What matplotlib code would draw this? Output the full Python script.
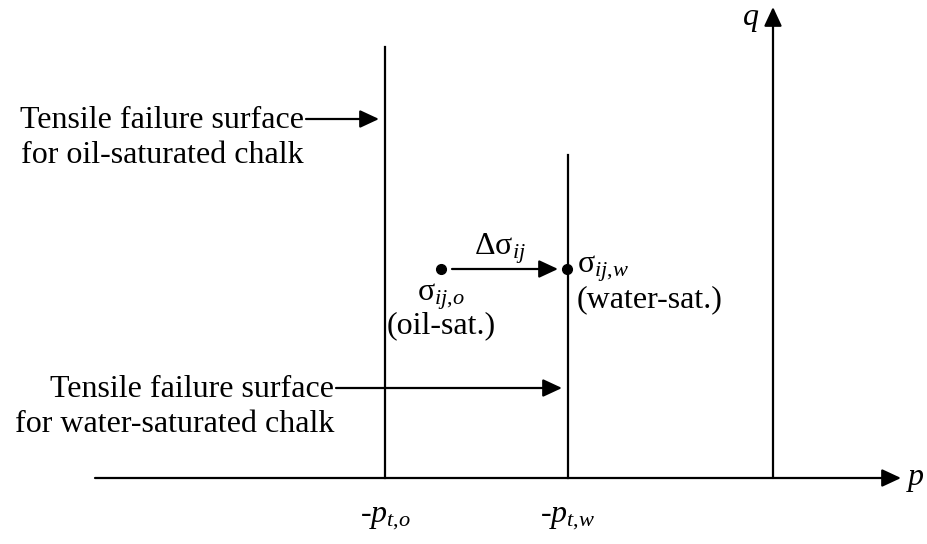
import matplotlib.pyplot as plt

plt.rcParams["font.family"] = ["Liberation Serif", "DejaVu Serif"]
plt.rcParams["mathtext.fontset"] = "custom"
plt.rcParams["mathtext.rm"] = "Liberation Serif"
plt.rcParams["mathtext.it"] = "Liberation Serif:italic"

# diagram coordinates (pixel-like, y grows downward)
p_axis_y = 478
p_axis_x = (95, 901)
q_axis_x = 773
q_axis_top = 7
surf_x = [385, 568]             # -p_t,o and -p_t,w
surf_top = [47, 155]
surf_ticks = [r"-$p_{t{,}o}$", r"-$p_{t{,}w}$"]
state_x = [441, 567]
state_y = 269
oil_label = [r"$\mathrm{\sigma}_{ij{,}o}$", "(oil-sat.)"]
water_label = [r"$\mathrm{\sigma}_{ij{,}w}$", "(water-sat.)"]
callouts = [("Tensile failure surface", "for oil-saturated chalk"),
            ("Tensile failure surface", "for water-saturated chalk")]
callout_y = [119, 388]
callout_right = [304, 334]

fs = 23
head = "-|>,head_length=0.58,head_width=0.27"
arrow_kw = dict(arrowstyle=head, color="black", lw=1.6,
                mutation_scale=20, shrinkA=0, shrinkB=0)

fig = plt.figure(figsize=(9.28, 5.44), dpi=100)
ax = fig.add_axes([0, 0, 1, 1])
ax.set_xlim(0, 928)
ax.set_ylim(544, 0)
ax.axis("off")

# p and q axes
ax.annotate("", xy=(p_axis_x[1], p_axis_y), xytext=(p_axis_x[0], p_axis_y),
            arrowprops=arrow_kw)
ax.annotate("", xy=(q_axis_x, q_axis_top), xytext=(q_axis_x, p_axis_y),
            arrowprops=arrow_kw)
ax.text(906, p_axis_y + 2, "$p$", fontsize=fs, ha="left", va="center")
ax.text(q_axis_x - 14, 20, "$q$", fontsize=fs, ha="right", va="center")

# tensile failure surfaces
for x, top, lab in zip(surf_x, surf_top, surf_ticks):
    ax.plot([x, x], [top, p_axis_y], color="black", lw=1.6)
    ax.text(x, 518, lab, fontsize=fs, ha="center", va="center")

# stress states and the change between them
ax.plot(state_x, [state_y, state_y], "o", color="black", ms=7)
ax.annotate("", xy=(state_x[1] - 9, state_y), xytext=(state_x[0] + 11, state_y),
            arrowprops=arrow_kw)
ax.text(500, 249, r"$\Delta\mathrm{\sigma}_{ij}$", fontsize=fs, ha="center", va="center")
ax.text(state_x[0], 297, oil_label[0], fontsize=fs, ha="center", va="center")
ax.text(state_x[0], 326, oil_label[1], fontsize=fs, ha="center", va="center")
ax.text(state_x[1] + 10, 269, water_label[0], fontsize=fs, ha="left", va="center")
ax.text(state_x[1] + 10, 300, water_label[1], fontsize=fs, ha="left", va="center")

# callouts pointing at each surface
for (line1, line2), y, xr, x in zip(callouts, callout_y, callout_right, surf_x):
    ax.text(xr, y + 9, line1, fontsize=fs, ha="right", va="baseline")
    ax.text(xr, y + 44, line2, fontsize=fs, ha="right", va="baseline")
    ax.annotate("", xy=(x - 6, y), xytext=(xr + 2, y), arrowprops=arrow_kw)

fig.savefig("out.png", dpi=100)
